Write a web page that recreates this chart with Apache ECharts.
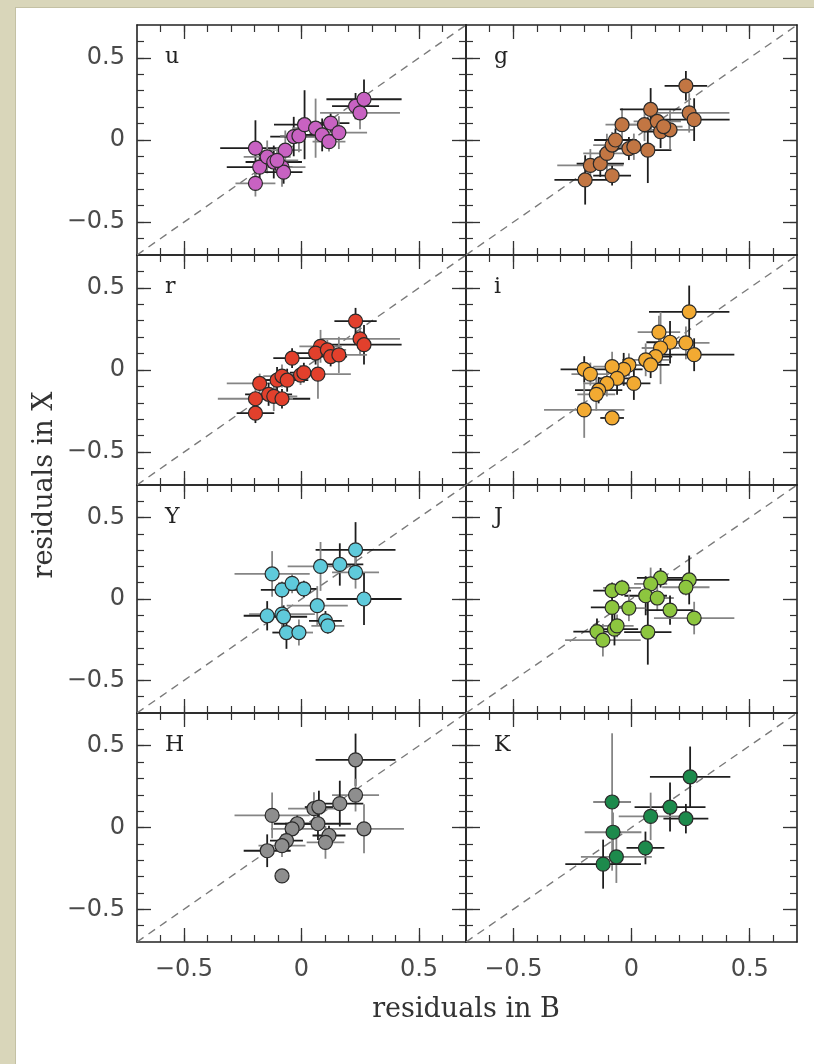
<!DOCTYPE html>
<html>
<head>
<meta charset="utf-8">
<script src="https://cdn.jsdelivr.net/npm/echarts@6/dist/echarts.min.js"></script>
<style>
  body { margin: 0; }
  #frame { position: absolute; left: 0; top: 0; width: 814px; height: 1064px; background: #d9d6ba; }
  #paper { position: absolute; left: 15px; top: 7px; right: 0; bottom: 0; background: #ffffff; border-left: 1px solid #c4c1a4; border-top: 1px solid #c4c1a4; }
  #chart { position: absolute; left: 0; top: 0; width: 814px; height: 1064px; }
</style>
</head>
<body>
<div id="frame"><div id="paper"></div></div>
<div id="chart"></div>
<script>
// each point: [residual in B, residual in X, error in B, error in X]
const bandU = [
  [-0.196, -0.05, 0.15, 0.17], [-0.196, -0.264, 0.085, 0.08], [-0.178, -0.165, 0.14, 0.08],
  [-0.146, -0.103, 0.10, 0.10], [-0.118, -0.134, 0.12, 0.10], [-0.083, -0.165, 0.10, 0.12],
  [-0.076, -0.196, 0.08, 0.07], [-0.069, -0.062, 0.07, 0.12], [-0.033, 0.021, 0.10, 0.12],
  [-0.011, 0.025, 0.08, 0.10], [0.013, 0.093, 0.13, 0.21], [0.06, 0.072, 0.10, 0.18],
  [0.088, 0.031, 0.08, 0.10], [0.117, -0.01, 0.07, 0.06], [0.124, 0.103, 0.08, 0.06],
  [0.159, 0.045, 0.12, 0.10], [0.23, 0.206, 0.10, 0.08], [0.249, 0.165, 0.17, 0.10],
  [0.266, 0.248, 0.16, 0.12], [-0.104, -0.124, 0.09, 0.08]
];
const bandG = [
  [-0.196, -0.243, 0.13, 0.15], [-0.174, -0.155, 0.14, 0.10], [-0.132, -0.144, 0.10, 0.08],
  [-0.104, -0.082, 0.10, 0.12], [-0.082, -0.217, 0.08, 0.06], [-0.082, -0.031, 0.08, 0.08],
  [-0.068, 0.0, 0.09, 0.07], [-0.04, 0.093, 0.07, 0.10], [-0.011, -0.052, 0.08, 0.07],
  [0.01, -0.041, 0.09, 0.08], [0.069, -0.062, 0.10, 0.20], [0.055, 0.093, 0.10, 0.10],
  [0.081, 0.186, 0.13, 0.13], [0.109, 0.113, 0.10, 0.08], [0.123, 0.051, 0.07, 0.10],
  [0.163, 0.062, 0.10, 0.12], [0.23, 0.33, 0.09, 0.09], [0.244, 0.165, 0.17, 0.12],
  [0.265, 0.124, 0.15, 0.13], [0.136, 0.082, 0.08, 0.06]
];
const bandR = [
  [0.23, 0.298, 0.09, 0.08], [0.249, 0.19, 0.17, 0.10], [0.266, 0.154, 0.16, 0.12],
  [0.081, 0.144, 0.09, 0.10], [0.06, 0.103, 0.10, 0.07], [0.11, 0.123, 0.08, 0.06],
  [0.124, 0.082, 0.07, 0.06], [0.159, 0.092, 0.12, 0.11], [-0.04, 0.072, 0.08, 0.06],
  [-0.004, -0.031, 0.07, 0.06], [0.01, -0.016, 0.06, 0.06], [0.07, -0.025, 0.14, 0.15],
  [-0.104, -0.062, 0.10, 0.08], [-0.083, -0.037, 0.08, 0.07], [-0.061, -0.062, 0.09, 0.07],
  [-0.178, -0.082, 0.14, 0.06], [-0.14, -0.148, 0.10, 0.07], [-0.118, -0.16, 0.10, 0.09],
  [-0.083, -0.175, 0.12, 0.06], [-0.196, -0.175, 0.16, 0.07], [-0.196, -0.263, 0.08, 0.06]
];
const bandI = [
  [0.244, 0.354, 0.17, 0.16], [0.116, 0.23, 0.09, 0.10], [0.163, 0.169, 0.10, 0.13],
  [0.23, 0.165, 0.10, 0.10], [0.265, 0.093, 0.17, 0.10], [0.123, 0.134, 0.08, 0.22],
  [0.102, 0.082, 0.07, 0.08], [0.06, 0.062, 0.10, 0.10], [0.081, 0.031, 0.08, 0.08],
  [-0.011, 0.031, 0.10, 0.07], [-0.033, 0.004, 0.08, 0.10], [-0.082, 0.021, 0.08, 0.09],
  [-0.2, 0.004, 0.10, 0.08], [-0.174, -0.025, 0.08, 0.07], [-0.061, -0.051, 0.08, 0.10],
  [-0.104, -0.082, 0.10, 0.08], [-0.139, -0.123, 0.10, 0.08], [-0.149, -0.148, 0.08, 0.10],
  [0.01, -0.082, 0.07, 0.10], [-0.2, -0.243, 0.17, 0.17], [-0.082, -0.292, 0.05, 0.04]
];
const bandY = [
  [0.23, 0.302, 0.17, 0.17], [0.081, 0.2, 0.14, 0.15], [0.163, 0.212, 0.10, 0.13],
  [0.23, 0.164, 0.10, 0.10], [0.266, 0.0, 0.16, 0.16], [-0.125, 0.154, 0.16, 0.14],
  [-0.083, 0.056, 0.09, 0.05], [-0.04, 0.096, 0.06, 0.06], [0.01, 0.062, 0.06, 0.05],
  [0.067, -0.041, 0.13, 0.12], [-0.146, -0.103, 0.10, 0.09], [-0.083, -0.093, 0.14, 0.10],
  [0.102, -0.134, 0.07, 0.06], [0.112, -0.165, 0.07, 0.05], [-0.064, -0.206, 0.06, 0.10],
  [-0.011, -0.206, 0.06, 0.08], [-0.076, -0.109, 0.10, 0.07]
];
const bandJ = [
  [0.123, 0.13, 0.10, 0.06], [0.081, 0.093, 0.07, 0.10], [0.244, 0.117, 0.17, 0.15],
  [0.23, 0.072, 0.10, 0.05], [-0.082, 0.051, 0.08, 0.05], [-0.04, 0.068, 0.08, 0.05],
  [0.06, 0.02, 0.09, 0.12], [0.109, 0.006, 0.07, 0.08], [-0.082, -0.052, 0.09, 0.09],
  [-0.011, -0.056, 0.07, 0.08], [0.163, -0.068, 0.10, 0.09], [0.265, -0.117, 0.17, 0.10],
  [-0.146, -0.2, 0.10, 0.08], [-0.121, -0.253, 0.16, 0.10], [-0.072, -0.185, 0.10, 0.10],
  [-0.061, -0.165, 0.07, 0.07], [0.069, -0.203, 0.10, 0.20]
];
const bandH = [
  [0.23, 0.414, 0.17, 0.16], [0.23, 0.198, 0.10, 0.10], [0.163, 0.146, 0.10, 0.14],
  [0.053, 0.115, 0.11, 0.10], [0.074, 0.125, 0.06, 0.10], [-0.125, 0.074, 0.16, 0.14],
  [-0.018, 0.023, 0.10, 0.05], [-0.04, -0.008, 0.09, 0.05], [0.07, 0.023, 0.14, 0.10],
  [0.266, -0.008, 0.17, 0.15], [0.117, -0.049, 0.07, 0.06], [0.102, -0.091, 0.08, 0.10],
  [-0.064, -0.08, 0.07, 0.06], [-0.083, -0.111, 0.10, 0.07], [-0.146, -0.142, 0.10, 0.10],
  [-0.083, -0.296, 0.03, 0.03]
];
const bandK = [
  [0.248, 0.31, 0.17, 0.185], [-0.082, 0.156, 0.08, 0.42], [0.163, 0.125, 0.15, 0.15],
  [0.081, 0.068, 0.135, 0.145], [0.23, 0.054, 0.095, 0.09], [-0.078, -0.029, 0.12, 0.12],
  [0.059, -0.125, 0.08, 0.10], [-0.064, -0.179, 0.15, 0.16], [-0.12, -0.224, 0.16, 0.15]
];

const bandNames = ['u', 'g', 'r', 'i', 'Y', 'J', 'H', 'K'];
const bandData = [bandU, bandG, bandR, bandI, bandY, bandJ, bandH, bandK];
const bandColors = ['#c862c2', '#c27643', '#e2402c', '#f2aa32', '#5fcadb', '#8dc63f', '#8e8e8e', '#1d8a4c'];

const axisMin = -0.7, axisMax = 0.7;
const majorTickValues = [-0.5, 0, 0.5];
const minorTickValues = [-0.6, -0.5, -0.4, -0.3, -0.2, -0.1, 0, 0.1, 0.2, 0.3, 0.4, 0.5, 0.6];
const diagonal = [[-0.7, -0.7], [0.7, 0.7]];

// panel layout (pixels)
const colLeft = [137, 466], colWidth = [329, 331];
const rowTop = [25, 255, 485, 713], rowHeight = [230, 230, 228, 229];

function fmt(v) {
  if (v === 0) return '0';
  return v < 0 ? '\u2212' + Math.abs(v) : String(v);
}

function makeAxes(gi, isX, showLabel) {
  const sides = isX ? ['bottom', 'top'] : ['left', 'right'];
  const list = [];
  sides.forEach((pos, si) => {
    // minor ticks + frame line
    list.push({
      type: 'value', gridIndex: gi, position: pos, min: axisMin, max: axisMax,
      axisLine: { show: true, onZero: false, lineStyle: { color: '#222', width: 1.6 } },
      axisTick: { show: true, inside: true, length: 7, customValues: minorTickValues,
        lineStyle: { color: '#333', width: 1.2 } },
      axisLabel: { show: false }, splitLine: { show: false }
    });
    // major ticks + labels
    list.push({
      type: 'value', gridIndex: gi, position: pos, min: axisMin, max: axisMax,
      axisLine: { show: false, onZero: false },
      axisTick: { show: true, inside: true, length: 14, customValues: majorTickValues,
        lineStyle: { color: '#333', width: 1.3 } },
      axisLabel: { show: showLabel && si === 0, customValues: majorTickValues, formatter: fmt,
        margin: isX ? 16 : 12, color: '#4a4a4a', fontSize: 24, fontFamily: 'DejaVu Sans' },
      splitLine: { show: false }
    });
  });
  return list;
}

function errorBars(params, api) {
  const x = api.value(0), y = api.value(1), ex = api.value(2), ey = api.value(3);
  const l = api.coord([x - ex, y]), r = api.coord([x + ex, y]);
  const t = api.coord([x, y + ey]), b = api.coord([x, y - ey]);
  const c = params.dataIndex % 2 ? '#858585' : '#1e1e1e';
  return {
    type: 'group',
    children: [
      { type: 'line', shape: { x1: l[0], y1: l[1], x2: r[0], y2: r[1] }, style: { stroke: c, lineWidth: 1.8 } },
      { type: 'line', shape: { x1: t[0], y1: t[1], x2: b[0], y2: b[1] }, style: { stroke: c, lineWidth: 1.8 } }
    ]
  };
}

const grids = [], xAxes = [], yAxes = [], series = [], graphics = [];
bandNames.forEach((name, k) => {
  const row = Math.floor(k / 2), col = k % 2;
  grids.push({ left: colLeft[col], top: rowTop[row], width: colWidth[col], height: rowHeight[row], outerBoundsMode: 'none' });
  xAxes.push(...makeAxes(k, true, row === 3));
  yAxes.push(...makeAxes(k, false, col === 0));
  const xi = k * 4, yi = k * 4;
  series.push({
    type: 'line', xAxisIndex: xi, yAxisIndex: yi, data: diagonal, symbol: 'none', silent: true,
    lineStyle: { color: '#7a7a7a', width: 1.4, type: [8, 6] }, z: 1
  });
  series.push({
    type: 'custom', xAxisIndex: xi, yAxisIndex: yi, data: bandData[k], renderItem: errorBars,
    encode: { x: 0, y: 1 }, clip: true, z: 2
  });
  series.push({
    type: 'scatter', xAxisIndex: xi, yAxisIndex: yi, data: bandData[k], symbolSize: 14,
    encode: { x: 0, y: 1 },
    itemStyle: { color: bandColors[k], borderColor: '#2a2a2a', borderWidth: 1.2, opacity: 1 }, z: 3
  });
  graphics.push({
    type: 'text', left: colLeft[col] + 28, top: rowTop[row] + 21,
    style: { text: name, font: '22px "DejaVu Serif"', fill: '#222' }
  });
});

graphics.push({
  type: 'text', x: 45, y: 485, rotation: Math.PI / 2,
  style: { text: 'residuals in X', font: '27px "DejaVu Serif"', fill: '#333', align: 'center', verticalAlign: 'middle' }
});
graphics.push({
  type: 'text', x: 466, y: 1010,
  style: { text: 'residuals in B', font: '27px "DejaVu Serif"', fill: '#333', align: 'center', verticalAlign: 'middle' }
});

const chart = echarts.init(document.getElementById('chart'));
chart.setOption({
  animation: false,
  backgroundColor: 'transparent',
  grid: grids,
  xAxis: xAxes,
  yAxis: yAxes,
  series: series,
  graphic: graphics
});
</script>
</body>
</html>
